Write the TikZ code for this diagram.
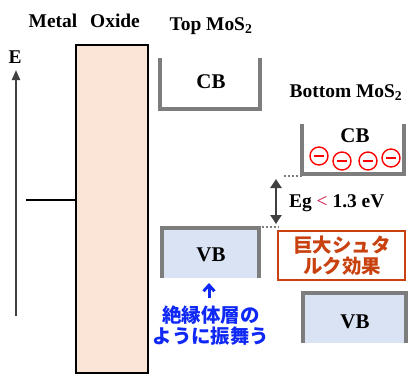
\documentclass[tikz,border=0pt]{standalone}
\usepackage{fontspec}
\setmainfont{Liberation Serif}
\newfontfamily\jpfont{Noto Sans CJK JP}
\usetikzlibrary{arrows.meta}

\definecolor{oxidefill}{RGB}{251,229,214}
\definecolor{vbfill}{RGB}{218,227,243}
\definecolor{bandgray}{RGB}{125,125,125}
\definecolor{axisgray}{RGB}{64,64,64}
\definecolor{starkred}{RGB}{200,65,15}
\definecolor{insblue}{RGB}{15,40,245}
\definecolor{ltred}{RGB}{200,10,60}

\begin{document}
\begin{tikzpicture}[x=1bp,y=-1bp,line join=miter,
  lbl/.style={inner sep=0pt,font=\bfseries\fontsize{19.5}{21}\selectfont},
  bandlbl/.style={inner sep=0pt,font=\bfseries\fontsize{21}{22}\selectfont},
  bandbox/.style={inner sep=0pt,minimum width=#1},
  band/.style={line width=4bp,draw=bandgray},
  elec/.style={circle,draw=red,line width=1.4bp,minimum size=18bp,inner sep=0pt},
  jp/.style={align=center,inner sep=0pt,font=\jpfont\bfseries\fontsize{19.5}{21}\selectfont}]
  \useasboundingbox (0,0) rectangle (408,376);
  % metal / oxide
  \node[lbl] (metal) at (53,21) {Metal};
  \node[lbl] (oxide) at (115,21) {Oxide};
  \node[draw,line width=2.6bp,fill=oxidefill,inner sep=0pt,
    minimum width=72bp,minimum height=328bp] (ox) at (112,209) {};
  \coordinate (fermi) at (26,200);
  \draw[line width=2.2bp] (fermi) -- (fermi -| ox.west);
  % energy axis
  \node[lbl] (E) at (15,57) {E};
  \coordinate (ebot) at (16,316);
  \coordinate (etop) at (16,70);
  \draw[axisgray,line width=2bp,-{Triangle[length=10bp,width=8bp]}] (ebot) -- (etop);
  % top MoS2
  \node[lbl] (toplbl) at (211,26) {Top MoS\textsubscript{2}};
  \node[bandbox=100bp,minimum height=51bp] (topcb) at (210,83.5) {};
  \draw[band] (topcb.north west) -- (topcb.south west) -- (topcb.south east) -- (topcb.north east);
  \node[bandlbl] (topcbl) at (211,82) {CB};
  \node[bandbox=97bp,minimum height=50bp,fill=vbfill] (topvb) at (210.5,253) {};
  \draw[band] (topvb.south west) -- (topvb.north west) -- (topvb.north east) -- (topvb.south east);
  \node[bandlbl] (topvbl) at (211,255) {VB};
  \coordinate (arrtop) at (209,283);
  \coordinate (arrbot) at (209,298);
  \draw[insblue,line width=3bp,-{Straight Barb[length=6bp,width=11bp]}] (arrbot) -- (arrtop);
  \node[jp,text=insblue] (insul) at (211,326) {絶縁体層の\\ように振舞う};
  % bottom MoS2
  \node[lbl] (botlbl) at (346,93) {Bottom MoS\textsubscript{2}};
  \node[bandbox=102bp,minimum height=50bp] (botcb) at (353,149) {};
  \draw[band] (botcb.north west) -- (botcb.south west) -- (botcb.south east) -- (botcb.north east);
  \node[bandlbl] (botcbl) at (355,136) {CB};
  \foreach \x/\y [count=\i] in {319/156,342/161,368/161,391/158} {
    \node[elec] (e\i) at (\x,\y) {};
    \draw[red,line width=2.8bp] ([xshift=-5bp]e\i.center) -- ([xshift=5bp]e\i.center);
  }
  \node[bandbox=103bp,minimum height=50bp,fill=vbfill] (botvb) at (354.5,318) {};
  \draw[band] (botvb.south west) -- (botvb.north west) -- (botvb.north east) -- (botvb.south east);
  \node[bandlbl] (botvbl) at (355,322) {VB};
  % gap
  \coordinate (dot1) at (284,175.5);
  \coordinate (dot2) at (262,227);
  \draw[bandgray,line width=2bp,dotted] (dot1) -- (dot1 -| botcb.west);
  \draw[bandgray,line width=2bp,dotted] (dot2) -- (279,227);
  \coordinate (gtop) at (276,179);
  \coordinate (gbot) at (276,224);
  \draw[axisgray,line width=2.8bp,{Triangle[length=9bp,width=11bp]}-{Triangle[length=9bp,width=11bp]}] (gtop) -- (gbot);
  \node[lbl,anchor=west] (eg) at (289,203) {Eg \textcolor{ltred}{\mdseries<} 1.3 eV};
  \node[draw=starkred,line width=2.6bp,minimum width=127bp,minimum height=49bp,inner sep=0pt] (stark) at (341.5,255.5) {};
  \node[jp,text=starkred] (starklbl) at (342,256) {巨大シュタ\\ルク効果};
\end{tikzpicture}
\end{document}
